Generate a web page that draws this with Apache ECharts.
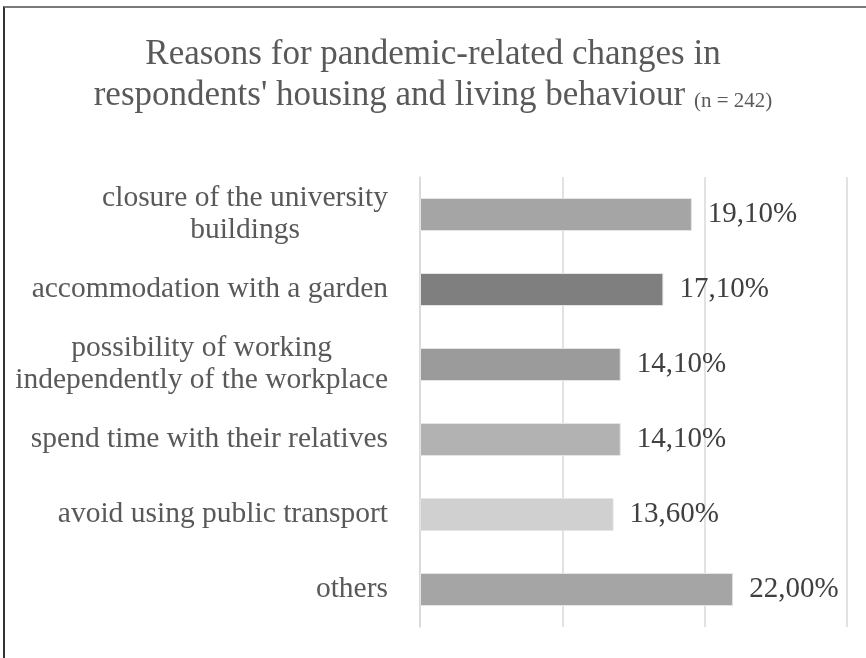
<!DOCTYPE html>
<html>
<head>
<meta charset="utf-8">
<script src="https://cdn.jsdelivr.net/npm/echarts@6/dist/echarts.min.js"></script>
<style>
  html, body { margin: 0; padding: 0; background: #fff; }
  #chart { width: 866px; height: 658px; position: relative; }
  #frame { position: absolute; left: 3px; top: 6px; right: 0; bottom: 0;
           border-top: 2px solid #7a7a7a; border-left: 2px solid #333; pointer-events: none; }
</style>
</head>
<body>
<div id="chart"></div>
<div id="frame"></div>
<script>
// categories (top to bottom)
const reasons = [
  'closure of the university\nbuildings',
  'accommodation with a garden',
  'possibility of working\nindependently of the workplace',
  'spend time with their relatives',
  'avoid using public transport',
  'others'
];
// shares in percent
const shares = [19.1, 17.1, 14.1, 14.1, 13.6, 22.0];
const barColors = ['#a5a5a5', '#7f7f7f', '#9b9b9b', '#b2b2b2', '#d0d0d0', '#a5a5a5'];

const serif = '"Liberation Serif", "Times New Roman", serif';

const myChart = echarts.init(document.getElementById('chart'));

const options = {
  animation: false,
  title: {
    text: 'Reasons for pandemic-related changes in\nrespondents\' housing and living behaviour {s|(n = 242)}',
    left: 'center',
    top: 29,
    textStyle: {
      fontFamily: serif,
      fontWeight: 'normal',
      fontSize: 35,
      lineHeight: 41,
      color: '#595959',
      rich: {
        s: {
          fontFamily: serif,
          fontSize: 21,
          color: '#595959',
          verticalAlign: 'bottom',
          padding: [0, 0, 4, 0]
        }
      }
    }
  },
  grid: {
    left: 420,
    right: 19,
    top: 177,
    bottom: 31,
    containLabel: false
  },
  xAxis: {
    type: 'value',
    min: 0,
    max: 30,
    interval: 10,
    axisLabel: { show: false },
    axisLine: { show: false },
    axisTick: { show: false },
    splitLine: {
      lineStyle: { color: '#d9d9d9', width: 1.5 }
    }
  },
  yAxis: {
    type: 'category',
    inverse: true,
    data: reasons,
    axisLine: {
      lineStyle: { color: '#d9d9d9', width: 1.5 }
    },
    axisTick: {
      length: 8,
      lineStyle: { color: '#d9d9d9', width: 1.5 }
    },
    axisLabel: {
      margin: 32,
      fontFamily: serif,
      fontSize: 29.5,
      color: '#595959',
      align: 'right',
      formatter: function (value) {
        // 每行居中，整体右对齐
        return value.split('\n').map(function (l) { return '{c|' + l + '}'; }).join('\n');
      },
      rich: {
        c: {
          align: 'center',
          fontFamily: serif,
          fontSize: 29.5,
          lineHeight: 32,
          color: '#595959'
        }
      }
    }
  },
  series: [
    {
      type: 'bar',
      barWidth: 33,
      data: shares.map(function (v, i) {
        return {
          value: v,
          itemStyle: { color: barColors[i] }
        };
      }),
      itemStyle: {
        borderColor: '#e4e4e4',
        borderWidth: 1
      },
      label: {
        show: true,
        position: 'right',
        distance: 16,
        fontFamily: serif,
        fontSize: 29,
        color: '#404040',
        formatter: function (p) {
          return p.value.toFixed(2).replace('.', ',') + '%';
        }
      }
    }
  ]
};

myChart.setOption(options);
</script>
</body>
</html>
